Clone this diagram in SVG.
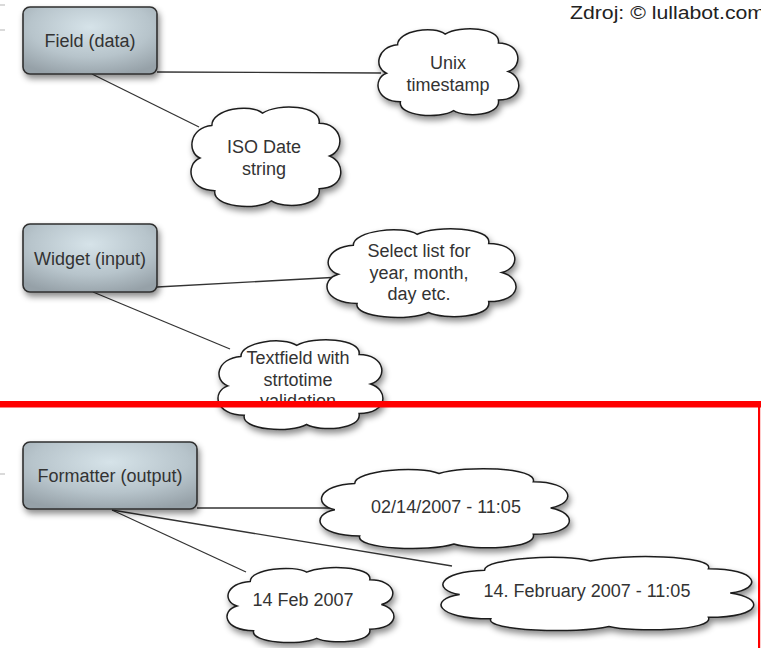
<svg xmlns="http://www.w3.org/2000/svg" xmlns:xlink="http://www.w3.org/1999/xlink" width="761" height="648" viewBox="0 0 761 648">
  <style>
    .box { stroke: #2f2f2f; stroke-width: 1.6; fill: url(#boxGrad); }
    .cloud { fill: #ffffff; stroke: #1e1e1e; stroke-width: 1.5; vector-effect: non-scaling-stroke; }
    .conn { stroke: #333; stroke-width: 1.3; fill: none; }
    .lbl { font-family: "Liberation Sans", Arial, Helvetica, sans-serif; font-size: 18px; fill: #333; text-anchor: middle; }
    .edge { stroke: #b5b5b5; stroke-width: 1; }
    .red { fill: #ff0000; }
  </style>
  <defs>
    <radialGradient id="boxGrad" cx="50%" cy="30%" r="75%">
      <stop offset="0" stop-color="#d6e3e9"/>
      <stop offset="0.6" stop-color="#b7c4cb"/>
      <stop offset="1" stop-color="#96a1a8"/>
    </radialGradient>
    <filter id="sh" x="-20%" y="-20%" width="150%" height="160%">
      <feDropShadow dx="2" dy="4" stdDeviation="3" flood-color="#000" flood-opacity="0.45"/>
    </filter>
    <path id="cloudShape" class="cloud" d="M 6,52 C -3,46 -1,22 14,20 C 14,4 40,-2 48,8 C 58,-2 88,0 86,18 C 102,18 104,44 93,50 C 104,56 104,82 86,82 C 88,100 62,102 54,94 C 44,104 14,100 16,84 C -2,84 -4,58 6,52 Z"/>
  </defs>

  <rect width="761" height="648" fill="#ffffff"/>

  <!-- small edge marks -->
  <line class="edge" x1="0" y1="5" x2="5" y2="5"/>
  <line class="edge" x1="0" y1="30" x2="5" y2="30"/>
  <line class="edge" x1="0" y1="474" x2="5" y2="474"/>

  <g id="connectors">
    <line class="conn" x1="157" y1="72" x2="381" y2="73"/>
    <line class="conn" x1="92" y1="74" x2="199" y2="127"/>
    <line class="conn" x1="157" y1="287" x2="341" y2="277"/>
    <line class="conn" x1="93" y1="292" x2="230" y2="349"/>
    <line class="conn" x1="197" y1="508" x2="333" y2="508"/>
    <line class="conn" x1="112" y1="510" x2="246" y2="572"/>
    <line class="conn" x1="112" y1="510" x2="452" y2="566"/>
  </g>

  <g id="field">
    <rect class="box" x="23" y="7" width="134" height="67" rx="7" filter="url(#sh)"/>
    <text class="lbl" x="90" y="47">Field (data)</text>
  </g>
  <g id="widget">
    <rect class="box" x="23" y="224" width="134" height="68" rx="7" filter="url(#sh)"/>
    <text class="lbl" x="90" y="265">Widget (input)</text>
  </g>
  <g id="formatter">
    <rect class="box" x="23" y="442" width="174" height="67" rx="7" filter="url(#sh)"/>
    <text class="lbl" x="110" y="482">Formatter (output)</text>
  </g>

  <g id="unix">
    <g filter="url(#sh)"><use xlink:href="#cloudShape" transform="translate(378,27) scale(1.40,0.89)"/></g>
    <text class="lbl" x="448" y="69">Unix</text>
    <text class="lbl" x="448" y="91">timestamp</text>
  </g>
  <g id="iso">
    <g filter="url(#sh)"><use xlink:href="#cloudShape" transform="translate(191,105) scale(1.49,1.02)"/></g>
    <text class="lbl" x="264" y="153">ISO Date</text>
    <text class="lbl" x="264" y="175">string</text>
  </g>
  <g id="select">
    <g filter="url(#sh)"><use xlink:href="#cloudShape" transform="translate(327,227) scale(1.88,0.91)"/></g>
    <text class="lbl" x="419" y="257">Select list for</text>
    <text class="lbl" x="419" y="278.5">year, month,</text>
    <text class="lbl" x="419" y="300">day etc.</text>
  </g>
  <g id="textfield">
    <g filter="url(#sh)"><use xlink:href="#cloudShape" transform="translate(218,338) scale(1.64,0.92)"/></g>
    <text class="lbl" x="298" y="364">Textfield with</text>
    <text class="lbl" x="298" y="385.5">strtotime</text>
    <text class="lbl" x="298" y="407">validation</text>
  </g>
  <g id="fmt1">
    <g filter="url(#sh)"><use xlink:href="#cloudShape" transform="translate(320,467) scale(2.48,0.82)"/></g>
    <text class="lbl" x="446" y="513">02/14/2007 - 11:05</text>
  </g>
  <g id="fmt2">
    <g filter="url(#sh)"><use xlink:href="#cloudShape" transform="translate(227,566) scale(1.66,0.77)"/></g>
    <text class="lbl" x="303" y="606">14 Feb 2007</text>
  </g>
  <g id="fmt3">
    <g filter="url(#sh)"><use xlink:href="#cloudShape" transform="translate(441,555) scale(3.11,0.76)"/></g>
    <text class="lbl" x="587" y="597">14. February 2007 - 11:05</text>
  </g>

  <g id="highlight">
    <rect class="red" x="0" y="401" width="761" height="6.5"/>
    <rect class="red" x="758" y="401" width="2.2" height="247"/>
  </g>

  <text id="source" x="570" y="19" style="font-family: 'Liberation Sans', Arial, Helvetica, sans-serif; font-size: 17.5px; fill: #222;" textLength="195" lengthAdjust="spacingAndGlyphs">Zdroj: © lullabot.com</text>
</svg>
